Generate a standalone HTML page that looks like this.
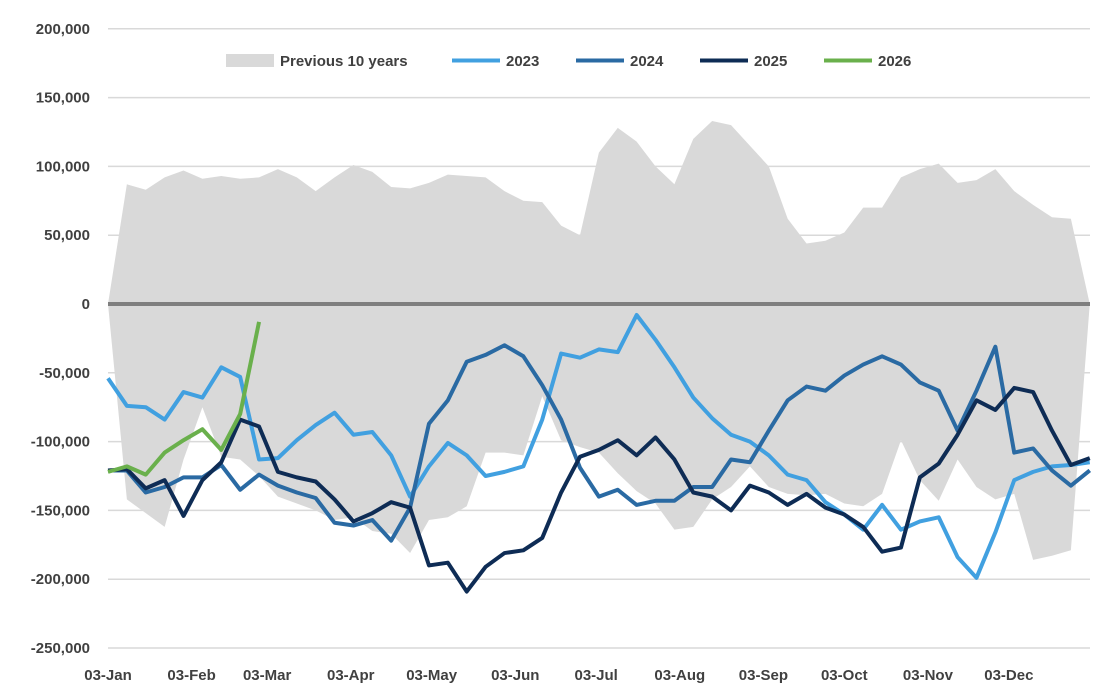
<!DOCTYPE html>
<html><head><meta charset="utf-8">
<style>
html,body{margin:0;padding:0;background:#fff;}
svg{display:block;font-family:"Liberation Sans",Arial,sans-serif;}
</style></head>
<body>
<svg id="chart" width="1119" height="700" viewBox="0 0 1119 700"></svg>
<script>
const yTicks = [200000,150000,100000,50000,0,-50000,-100000,-150000,-200000,-250000];
const xLabels = ["03-Jan","03-Feb","03-Mar","03-Apr","03-May","03-Jun","03-Jul","03-Aug","03-Sep","03-Oct","03-Nov","03-Dec"];
const xLabelDays = [0,31,59,90,120,151,181,212,243,273,304,334];
const bandUpper = [0,87,83,92,97,91,93,91,92,98,92,82,92,101,96,85,84,88,94,93,92,82,75,74,57,50,110,128,118,100,87,120,133,130,115,100,62,44,46,52,70,70,92,98,102,88,90,98,82,72,63,62,0];
const bandLower = [0,-142,-152,-162,-113,-75,-111,-113,-125,-140,-145,-150,-157,-155,-165,-167,-181,-157,-155,-147,-108,-108,-110,-67,-99,-104,-108,-123,-136,-145,-164,-162,-142,-133,-118,-133,-138,-139,-138,-145,-147,-138,-99,-128,-143,-113,-133,-142,-138,-186,-183,-179,0];
const s2023 = [-54,-74,-75,-84,-64,-68,-46,-53,-113,-112,-99,-88,-79,-95,-93,-110,-140,-118,-101,-110,-125,-122,-118,-84,-36,-39,-33,-35,-8,-26,-46,-68,-83,-95,-100,-110,-124,-128,-144,-153,-164,-146,-164,-158,-155,-184,-199,-166,-128,-122,-118,-117,-115];
const s2024 = [-121,-121,-137,-133,-126,-126,-117,-135,-124,-132,-137,-141,-159,-161,-157,-172,-148,-87,-70,-42,-37,-30,-38,-59,-84,-119,-140,-135,-146,-143,-143,-133,-133,-113,-115,-92,-70,-60,-63,-52,-44,-38,-44,-57,-63,-92,-63,-31,-108,-105,-121,-132,-121];
const s2025 = [-121,-120,-134,-128,-154,-128,-115,-84,-89,-122,-126,-129,-142,-158,-152,-144,-148,-190,-188,-209,-191,-181,-179,-170,-137,-111,-106,-99,-110,-97,-113,-137,-140,-150,-132,-137,-146,-138,-148,-153,-162,-180,-177,-126,-116,-95,-70,-77,-61,-64,-92,-117,-112];
const s2026 = [-122,-118,-124,-108,-99,-91,-106,-80,-13];
const UNIT = 1000;

const svg = document.getElementById('chart');
const NS = 'http://www.w3.org/2000/svg';
const X0 = 108, WSTEP = 18.88;
const Y0 = 304, YPX = 68.8/50000;
const xw = i => X0 + i*WSTEP;
const xd = d => X0 + d*WSTEP/7;
const yv = v => Y0 - v*YPX;
function mk(tag, attrs){const e=document.createElementNS(NS,tag);for(const k in attrs)e.setAttribute(k,attrs[k]);svg.appendChild(e);return e;}

yTicks.forEach(t=>{
  if(t!==0){
    const g=mk('line',{x1:X0,x2:1090,y1:yv(t),y2:yv(t),stroke:'#d9d9d9','stroke-width':1.5});
    
    
  }
  const l=mk('text',{x:90,y:yv(t)+5,'text-anchor':'end','font-size':15,'font-weight':'bold',fill:'#404040'});
  l.textContent=t.toLocaleString('en-US');
  
  
});

let pts=[];
bandUpper.forEach((v,i)=>pts.push(xw(i)+','+yv(v*UNIT)));
for(let i=bandLower.length-1;i>=0;i--)pts.push(xw(i)+','+yv(bandLower[i]*UNIT));
const band=mk('polygon',{points:pts.join(' '),fill:'#d9d9d9'});



const z=mk('line',{x1:X0,x2:1090,y1:yv(0),y2:yv(0),stroke:'#7f7f7f','stroke-width':4});



function series(arr,color,name){
  const p=mk('polyline',{points:arr.map((v,i)=>xw(i)+','+yv(v*UNIT)).join(' '),fill:'none',stroke:color,'stroke-width':4,'stroke-linejoin':'round'});
  
  
}
series(s2023,'#41a0e0','line-2023');
series(s2024,'#2a6aa3','line-2024');
series(s2025,'#0e2c55','line-2025');
series(s2026,'#6ab04c','line-2026');

xLabels.forEach((t,i)=>{
  const l=mk('text',{x:xd(xLabelDays[i]),y:680,'text-anchor':'middle','font-size':15,'font-weight':'bold',fill:'#404040'});
  l.textContent=t;
  
  
});

const legend=[['Previous 10 years','#d9d9d9',226,'rect'],['2023','#41a0e0',452,'line'],['2024','#2a6aa3',576,'line'],['2025','#0e2c55',700,'line'],['2026','#6ab04c',824,'line']];
legend.forEach(([t,c,x,kind])=>{
  let m;
  if(kind==='rect') m=mk('rect',{x:x,y:54,width:48,height:13,fill:c});
  else m=mk('line',{x1:x,x2:x+48,y1:60.5,y2:60.5,stroke:c,'stroke-width':4});
  
  
  const l=mk('text',{x:x+54,y:66,'font-size':15,'font-weight':'bold',fill:'#404040'});
  l.textContent=t;
  
  
});
</script>
</body></html>
